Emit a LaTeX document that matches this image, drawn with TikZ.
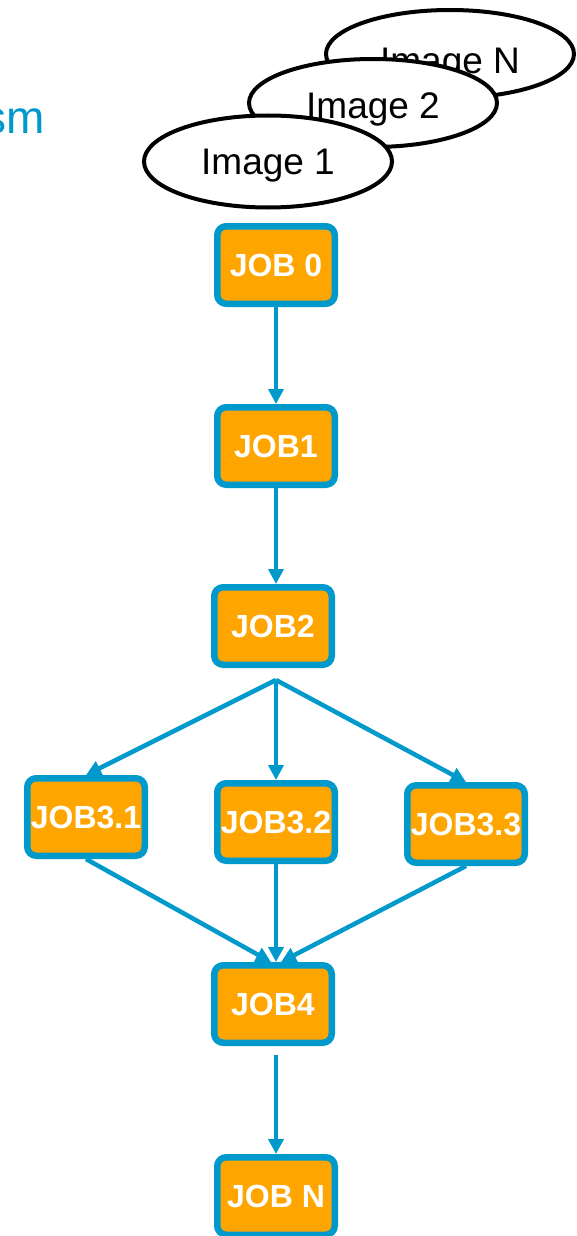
\documentclass[tikz,border=0pt]{standalone}
\usepackage{fontspec}
\setmainfont{Liberation Sans}
\usetikzlibrary{arrows.meta,shapes.geometric}
\definecolor{jobblue}{RGB}{0,153,204}
\definecolor{joborange}{RGB}{255,165,0}
\begin{document}
\begin{tikzpicture}[x=1pt,y=-1pt,
  imagenode/.style={ellipse, draw=black, fill=white, line width=4pt,
    minimum width=248pt, inner sep=0pt, text depth=0pt,
    font=\fontsize{37}{40}\selectfont},
  jobbox/.style={rectangle, rounded corners=9pt, draw=jobblue, fill=joborange,
    line width=6.5pt, minimum width=117.5pt, minimum height=77.5pt,
    inner sep=0pt, text=white, text depth=0pt,
    font=\fontsize{32}{36}\selectfont\bfseries},
  arr/.style={draw=jobblue, line width=4.5pt,
    -{Triangle[length=15pt,width=15pt]}}]
\useasboundingbox (0,0) rectangle (577,1236);

% cut-off heading fragment
\node[anchor=base east, inner sep=0pt, text=jobblue,
  font=\fontsize{46}{50}\selectfont] (frag) at (45,133) {sm};

% stacked input images, back to front
\node[imagenode, minimum height=88pt, text height=39pt] (imgN) at (450,54) {Image N};
\node[imagenode, minimum height=88pt, text height=32pt] (img2) at (373,103) {Image 2};
\node[imagenode, minimum height=92pt] (img1) at (268,161.5) {Image 1};

% jobs
\node[jobbox] (j0)  at (276,265)  {JOB 0};
\node[jobbox] (j1)  at (276,446)  {JOB1};
\node[jobbox] (j2)  at (273,626)  {JOB2};
\node[jobbox] (j31) at (86,817)   {JOB3.1};
\node[jobbox] (j32) at (276,822)  {JOB3.2};
\node[jobbox] (j33) at (466,824)  {JOB3.3};
\node[jobbox] (j4)  at (273,1004) {JOB4};
\node[jobbox] (jn)  at (276,1196) {JOB N};

\coordinate (split) at (276,680);
\coordinate (j4out) at (276,1055);

% connectors
\draw[arr] (j0.south) -- (j1.north);
\draw[arr] (j1.south) -- (j1.south |- j2.north);
\draw[arr] (split) -- (j31.north);
\draw[arr] (split) -- (j32.north);
\draw[arr] (split) -- (j33.north);
\draw[arr] (j31.south) -- ([xshift=-2pt]j4.north);
\draw[arr] (j32.south) -- (j32.south |- j4.north);
\draw[arr] (j33.south) -- ([xshift=8pt]j4.north);
\draw[arr] (j4out) -- (jn.north);
\end{tikzpicture}
\end{document}
